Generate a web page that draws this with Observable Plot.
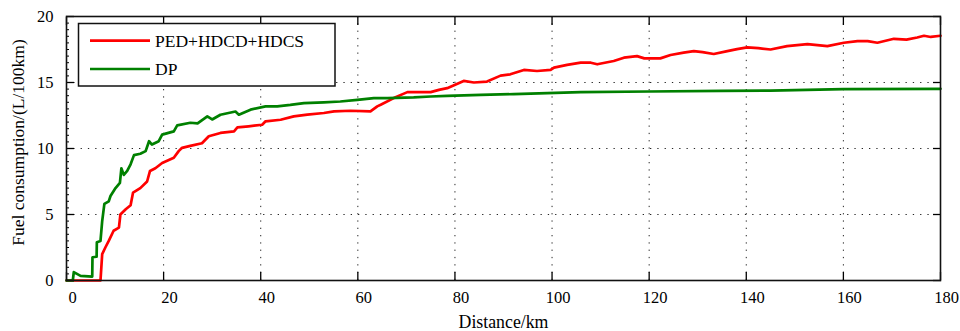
<!DOCTYPE html>
<html><head><meta charset="utf-8">
<script src="https://cdn.jsdelivr.net/npm/d3@7"></script>
<script src="https://cdn.jsdelivr.net/npm/@observablehq/plot@0.6"></script>
<style>body{margin:0;background:#fff} #chart{width:960px;height:331px}</style>
</head><body><div id="chart"></div>
<script>
const seriesNames = ["PED+HDCD+HDCS", "DP"];
const seriesColors = ["#ff0000", "#008000"];
const xLabel = "Distance/km";
const yLabel = "Fuel consumption/(L/100km)";
const xTicks = [0, 20, 40, 60, 80, 100, 120, 140, 160, 180];
const yTicks = [0, 5, 10, 15, 20];
const xGrid = [20, 40, 60, 80, 100, 120, 140, 160];
const yGrid = [5, 10, 15];

// [distance km, fuel L/100km]
const pedPoints = [
  [0,0],[7.0,0],[7.35,2.0],[8.0,2.5],[8.7,3.0],[9.7,3.77],[10.8,4.0],[11.1,5.0],[12.2,5.4],[13.2,5.7],
  [13.7,6.65],[15.2,7.0],[16.6,7.5],[17.2,8.3],[18.3,8.5],[19.7,8.9],[22.1,9.3],[23.1,9.8],[23.8,10.05],
  [25.5,10.2],[27.9,10.4],[29.3,10.93],[31.7,11.18],[34.5,11.3],[35.2,11.6],[37.5,11.68],[40.3,11.8],
  [41.0,12.06],[44.1,12.18],[46.8,12.43],[49.6,12.56],[53.0,12.69],[55.1,12.81],[58.5,12.86],[62.6,12.81],
  [64.0,13.19],[64.7,13.31],[67.4,13.82],[70.2,14.27],[75.0,14.27],[76.7,14.44],[78.4,14.57],[81.8,15.12],
  [83.9,15.0],[86.6,15.07],[89.4,15.52],[91.4,15.62],[94.2,15.95],[96.9,15.87],[99.7,15.95],[100.4,16.13],
  [103.1,16.33],[105.9,16.5],[108,16.5],[109.3,16.38],[112.7,16.63],[114.8,16.88],[117.5,17.0],[119,16.83],
  [122.3,16.83],[124.4,17.08],[127.1,17.26],[129.2,17.38],[131,17.3],[133.3,17.16],[136.1,17.38],[138.1,17.53],
  [140.2,17.66],[142.5,17.6],[145.0,17.5],[148.4,17.76],[152.6,17.91],[156.7,17.76],[160.1,18.01],[162.9,18.14],
  [165,18.14],[167,18.01],[170.4,18.31],[173,18.25],[175.2,18.41],[176.6,18.54],[178,18.45],[180,18.54]
];
const dpPoints = [
  [0,0],[1.3,0],[1.5,0.63],[2.9,0.35],[5.3,0.3],[5.35,1.76],[6.2,1.8],[6.25,2.9],[7.0,3.0],[7.35,4.5],
  [7.8,5.8],[8.7,6.0],[9.06,6.4],[10.1,7.0],[11.0,7.4],[11.3,8.5],[11.8,8.0],[12.5,8.3],[13.2,8.8],[13.9,9.5],
  [15.2,9.6],[16.3,9.8],[17.0,10.55],[17.6,10.3],[19.0,10.55],[19.7,11.05],[22.1,11.3],[22.8,11.75],[25.5,11.95],
  [27.0,11.9],[29.0,12.43],[30.0,12.2],[31.7,12.56],[34.8,12.8],[35.5,12.56],[37.9,12.94],[41.0,13.19],[43.4,13.19],
  [46.1,13.3],[48.9,13.44],[53.0,13.5],[56.4,13.56],[59.9,13.69],[63.3,13.82],[66.1,13.82],[71.5,13.87],[75,13.94],
  [78.4,13.99],[85.3,14.07],[92.1,14.12],[99.0,14.19],[105.9,14.27],[120,14.32],[135,14.36],[145,14.39],[160,14.5],[180,14.52]
];

const rows = [
  ...pedPoints.map(([d, v]) => ({series: seriesNames[0], d, v})),
  ...dpPoints.map(([d, v]) => ({series: seriesNames[1], d, v}))
];

const font = "'Liberation Serif', 'Times New Roman', 'DejaVu Serif', serif";
const gridStyle = {stroke: "#000", strokeOpacity: 0.85, strokeDasharray: "1.3,6", strokeWidth: 1};

const chart = Plot.plot({
  width: 960, height: 331,
  marginLeft: 66, marginRight: 20, marginTop: 16, marginBottom: 51,
  style: {fontFamily: font, fontSize: "16px", color: "#000", background: "#fff"},
  x: {domain: [0, 180]},
  y: {domain: [0, 20]},
  color: {domain: seriesNames, range: seriesColors},
  marks: [
    Plot.gridX(xGrid, gridStyle),
    Plot.gridY(yGrid, gridStyle),
    Plot.line(rows, {x: "d", y: "v", z: "series", stroke: "series", strokeWidth: 2.7, strokeLinejoin: "round"}),
    Plot.axisX(xTicks, {anchor: "bottom", tickSize: 0, tickPadding: 11, dx: 6, fontSize: 16.5, label: null}),
    Plot.axisX(xTicks, {anchor: "bottom", tickSize: -8, text: null, label: null, strokeWidth: 1.3}),
    Plot.axisX(xTicks, {anchor: "top", tickSize: -8, text: null, label: null, strokeWidth: 1.3}),
    Plot.axisY(yTicks, {anchor: "left", tickSize: 0, tickPadding: 13, fontSize: 16.5, label: null}),
    Plot.axisY(yTicks, {anchor: "left", tickSize: -8, text: null, label: null, strokeWidth: 1.3}),
    Plot.axisY({anchor: "left", interval: 0.5, tickSize: -3, text: null, label: null, strokeWidth: 1}),
    Plot.axisY(yTicks, {anchor: "right", tickSize: -8, text: null, label: null, strokeWidth: 1.3}),
    Plot.frame({stroke: "#111", strokeWidth: 1.6}),
    Plot.text([xLabel], {frameAnchor: "bottom", dy: 42, lineAnchor: "middle", textAnchor: "middle", fontSize: 17.8}),
    Plot.text([yLabel], {frameAnchor: "left", dx: -48, dy: -6, rotate: -90, lineAnchor: "middle", textAnchor: "middle", fontSize: 17.5})
  ]
});
document.getElementById("chart").appendChild(chart);

// legend box inside the plot area
const svg = d3.select(chart);
const lg = svg.append("g").attr("font-family", font).attr("font-size", 17.5).attr("text-anchor", "start");
lg.append("rect").attr("x", 78.5).attr("y", 23.5).attr("width", 256.5).attr("height", 62.5)
  .attr("fill", "#fff").attr("stroke", "#111").attr("stroke-width", 1.5);
seriesNames.forEach((name, i) => {
  const y = 40.7 + i * 28.3;
  lg.append("line").attr("x1", 90).attr("x2", 150).attr("y1", y).attr("y2", y)
    .attr("stroke", seriesColors[i]).attr("stroke-width", 2.7);
  lg.append("text").attr("x", 155).attr("y", y).attr("dy", "0.35em").attr("text-anchor", "start")
    .attr("fill", "#000").text(name);
});
</script>
</body></html>
